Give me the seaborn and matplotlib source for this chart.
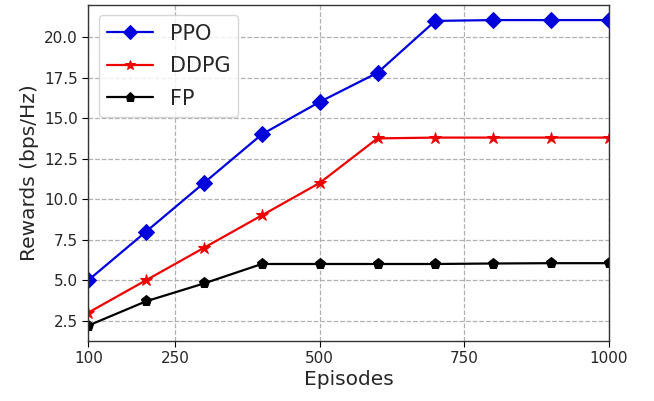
import matplotlib
matplotlib.use("Agg")
import matplotlib.pyplot as plt
import seaborn as sns
import pandas as pd

episodes = [100, 200, 300, 400, 500, 600, 700, 800, 900, 1000]
ppo = [5.0, 8.0, 11.0, 14.0, 16.0, 17.8, 21.0, 21.05, 21.05, 21.05]
ddpg = [3.0, 5.0, 7.0, 9.0, 11.0, 13.75, 13.8, 13.8, 13.8, 13.8]
fp = [2.2, 3.7, 4.8, 6.0, 6.0, 6.0, 6.0, 6.03, 6.05, 6.05]
x_ticks = [100, 250, 500, 750, 1000]

sns.set_style("ticks")
plt.rcParams["font.family"] = ["DejaVu Sans"]

fig, ax = plt.subplots(figsize=(6.54, 4.01), dpi=100)

series = [
    ("PPO", ppo, "#0000dd", "D", 8),
    ("DDPG", ddpg, "#ee0000", "*", 9),
    ("FP", fp, "black", "p", 8),
]
for name, vals, color, marker, ms in series:
    df = pd.DataFrame({"Episodes": episodes, "Reward": vals})
    sns.lineplot(data=df, x="Episodes", y="Reward", ax=ax, color=color,
                 marker=marker, markersize=ms, markeredgecolor=color,
                 linewidth=1.6, label=name)

ax.set_xlim(100, 1000)
ax.set_xticks(x_ticks)
ax.set_yticks([2.5, 5.0, 7.5, 10.0, 12.5, 15.0, 17.5, 20.0])
ax.set_yticklabels(["2.5", "5.0", "7.5", "10.0", "12.5", "15.0", "17.5", "20.0"])
ax.grid(True, linestyle="--", color="#b0b0b0", linewidth=0.9)
ax.tick_params(labelsize=11, direction="out", length=4, color="black")
for s in ax.spines.values():
    s.set_color("#333333")
    s.set_linewidth(1.0)

ax.set_xlabel("Episodes", fontsize=14.5, labelpad=3)
ax.set_ylabel("Rewards (bps/Hz)", fontsize=14.5)

ax.legend(loc="upper left", fontsize=15, frameon=True, handlelength=2.2,
          borderpad=0.4, labelspacing=0.6, borderaxespad=0.5,
          markerscale=0.85)

fig.subplots_adjust(left=0.135, right=0.931, top=0.988, bottom=0.15)
fig.savefig("out.png", dpi=100)
